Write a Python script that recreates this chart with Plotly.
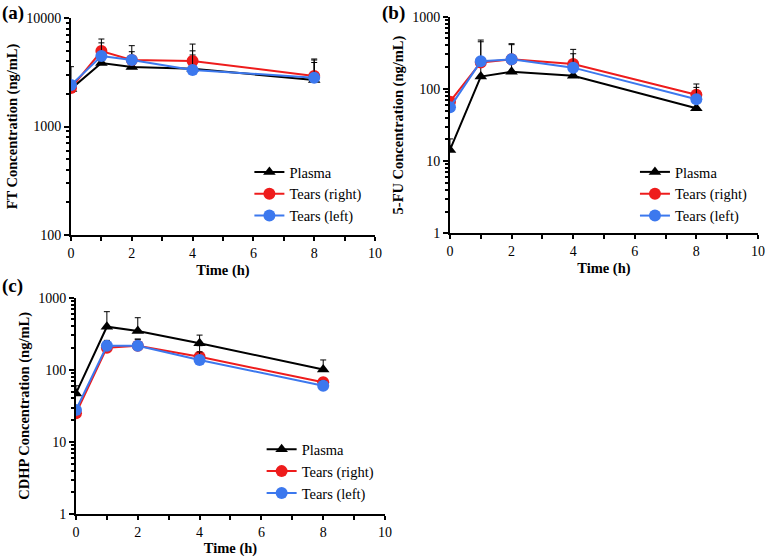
import plotly.graph_objects as go

# sampling times (h)
time = [0, 1, 2, 4, 8]

# (a) FT concentration (ng/mL)
ft_plasma = [2220, 3850, 3530, 3400, 2690]
ft_right = [2260, 4960, 4100, 4020, 2920]
ft_left = [2410, 4470, 4100, 3320, 2820]
ft_plasma_sd = [1340, 500, 300, 1160, 1200]
ft_right_sd = [150, 1440, 1460, 1730, 1270]
ft_left_sd = [150, 1430, 790, 1660, 1280]

# (b) 5-FU concentration (ng/mL)
fu_plasma = [14.3, 148, 173, 152, 54]
fu_right = [66.5, 233, 257, 221, 83]
fu_left = [55.6, 241, 257, 197, 72]
fu_plasma_sd = [6, 120, 90, 60, 15]
fu_right_sd = [10, 242, 166, 132, 34]
fu_left_sd = [8, 209, 153, 110, 33]

# (c) CDHP concentration (ng/mL)
cd_plasma = [47, 396, 345, 233, 101]
cd_right = [24.9, 203, 216, 152, 67]
cd_left = [27.7, 216, 216, 137, 60]
cd_plasma_sd = [13, 244, 183, 70, 36]
cd_right_sd = [4, 40, 50, 64, 10]
cd_left_sd = [4, 40, 50, 40, 10]

series_names = ["Plasma", "Tears (right)", "Tears (left)"]
colors = ["#000000", "#EE1C1C", "#3C78EE"]
symbols = ["triangle-up", "circle", "circle"]

panels = [
    ("x", "y", "legend", [ft_plasma, ft_right, ft_left], [ft_plasma_sd, ft_right_sd, ft_left_sd]),
    ("x2", "y2", "legend2", [fu_plasma, fu_right, fu_left], [fu_plasma_sd, fu_right_sd, fu_left_sd]),
    ("x3", "y3", "legend3", [cd_plasma, cd_right, cd_left], [cd_plasma_sd, cd_right_sd, cd_left_sd]),
]

serif = "Liberation Serif"

fig = go.Figure()
for xa, ya, lg, vals, sds in panels:
    for name, color, sym, v, sd in zip(series_names, colors, symbols, vals, sds):
        fig.add_trace(go.Scatter(
            x=time, y=v, name=name, xaxis=xa, yaxis=ya, legend=lg,
            mode="lines+markers",
            line=dict(color=color, width=2),
            marker=dict(color=color, symbol=sym, size=12 if sym == "circle" else 11),
            error_y=dict(type="data", array=sd, arrayminus=[0] * len(sd), symmetric=False,
                         color="black", thickness=1, width=3),
        ))

def xaxis(domain, anchor):
    return dict(domain=domain, anchor=anchor, range=[0, 10], dtick=2, tick0=0, automargin=False,
                showline=True, linecolor="black", linewidth=2, ticks="outside",
                ticklen=4, tickwidth=1.5, tickcolor="black", showgrid=False, zeroline=False,
                minor=dict(dtick=1, ticks="outside", ticklen=4, tickcolor="black", showgrid=False),
                tickfont=dict(family=serif, size=14, color="black"),
                title=dict(text="<b>Time (h)</b>", font=dict(family=serif, size=14.5, color="black"), standoff=5))

minor_vals = [m * 10 ** e for e in range(0, 4) for m in range(2, 10)]

def yaxis(domain, anchor, rng, title):
    return dict(domain=domain, anchor=anchor, type="log", range=rng, dtick=1, automargin=False,
                tickformat="d",
                showline=True, linecolor="black", linewidth=2, ticks="outside",
                ticklen=5, tickwidth=1.5, tickcolor="black", showgrid=False, zeroline=False,
                minor=dict(tickmode="array", tickvals=minor_vals, ticks="outside", ticklen=3,
                           tickcolor="black", showgrid=False),
                tickfont=dict(family=serif, size=14, color="black"),
                title=dict(text="<b>" + title + "</b>", font=dict(family=serif, size=14.5, color="black"), standoff=5))

legend_style = dict(font=dict(family=serif, size=14.5, color="black"), bgcolor="rgba(0,0,0,0)",
                    xanchor="left", yanchor="top", tracegroupgap=0, itemwidth=30)

fig.update_layout(
    template="none",
    width=765, height=557,
    margin=dict(l=0, r=0, t=0, b=0),
    paper_bgcolor="white", plot_bgcolor="white",
    font=dict(family=serif, color="black"),
    xaxis=xaxis([0.0928, 0.4902], "y"),
    yaxis=yaxis([0.578, 0.9677], "x", [2, 4], "FT Concentration (ng/mL)"),
    xaxis2=xaxis([0.5882, 0.9908], "y2"),
    yaxis2=yaxis([0.5811, 0.970], "x2", [0, 3], "5-FU Concentration (ng/mL)"),
    xaxis3=xaxis([0.0993, 0.5033], "y3"),
    yaxis3=yaxis([0.0772, 0.4655], "x3", [0, 3], "CDHP Concentration (ng/mL)"),
    legend=dict(x=0.326, y=0.72, **legend_style),
    legend2=dict(x=0.83, y=0.72, **legend_style),
    legend3=dict(x=0.342, y=0.222, **legend_style),
    annotations=[
        dict(text="<b>(a)</b>", x=0.0, y=1.0, xref="paper", yref="paper", xanchor="left", yanchor="top",
             showarrow=False, font=dict(family=serif, size=19, color="black")),
        dict(text="<b>(b)</b>", x=0.497, y=1.0, xref="paper", yref="paper", xanchor="left", yanchor="top",
             showarrow=False, font=dict(family=serif, size=19, color="black")),
        dict(text="<b>(c)</b>", x=0.0, y=0.51, xref="paper", yref="paper", xanchor="left", yanchor="top",
             showarrow=False, font=dict(family=serif, size=19, color="black")),
    ],
)

fig.write_html("out.html", config={"displayModeBar": False},
               post_script="document.body.style.margin='0';")
